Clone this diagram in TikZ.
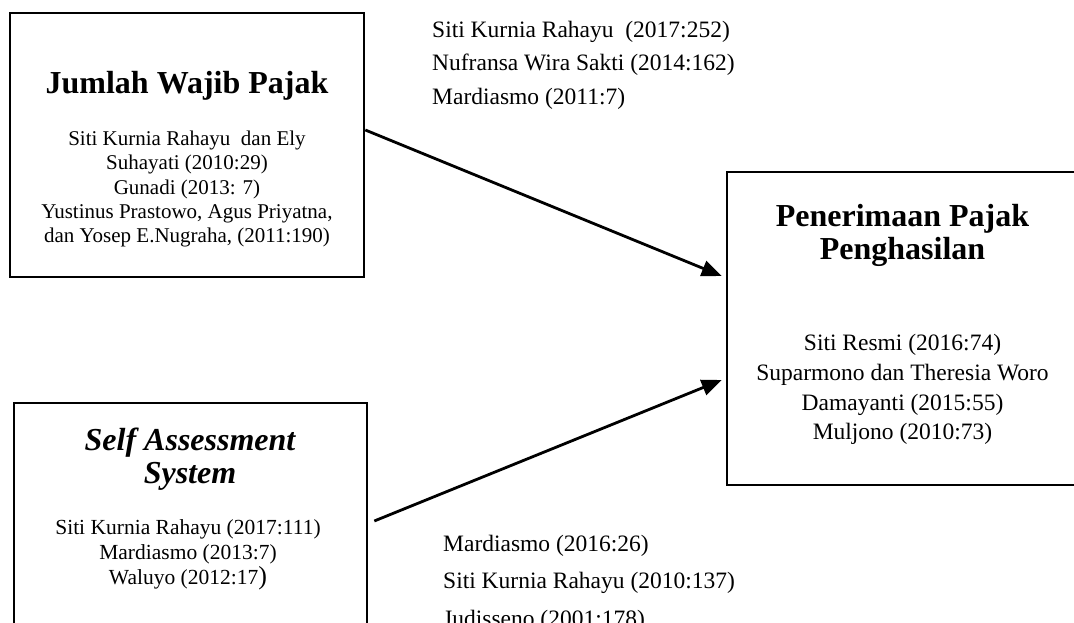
\documentclass[tikz,border=0pt]{standalone}
\usepackage{fontspec}
\setmainfont{Liberation Serif}
\usetikzlibrary{arrows.meta}
\begin{document}
\begin{tikzpicture}[x=1pt,y=-1pt,
  box/.style={draw,line width=2.6pt,inner sep=0pt,rectangle},
  ttl/.style={align=center,inner sep=0pt,font=\fontsize{32}{33}\selectfont\bfseries},
  lst/.style={align=center,inner sep=0pt},
  ref/.style={align=left,inner sep=0pt,anchor=west},
  arr/.style={line width=2.8pt,-{Triangle[length=20pt,width=16pt]}}]
\useasboundingbox (0,0) rectangle (1074,623);
% boxes
\node[box,minimum width=354pt,minimum height=264pt] (jwp) at (187,145) {};
\node[box,minimum width=353pt,minimum height=250pt] (sas) at (190.5,528) {};
\node[box,minimum width=351pt,minimum height=313pt] (ppp) at (902.5,328.5) {};
% box texts
\node[ttl] (jwpt) at (187,86) {Jumlah Wajib Pajak};
\node[lst,font=\fontsize{21}{24.3}\selectfont] (jwpl) at (187,189)
  {Siti Kurnia Rahayu\ \ dan Ely\\ Suhayati (2010:29)\\ Gunadi (2013: 7)\\
   Yustinus Prastowo, Agus Priyatna,\\ dan Yosep E.Nugraha, (2011:190)};
\node[ttl,font=\fontsize{32}{33}\selectfont\bfseries\itshape] (sast) at (190,459.5) {Self Assessment\\ System};
\node[lst,font=\fontsize{21.5}{25}\selectfont] (sasl) at (188,555)
  {Siti Kurnia Rahayu (2017:111)\\ Mardiasmo (2013:7)\\ Waluyo (2012:17{\fontsize{26}{26}\selectfont )}};
\node[ttl] (pppt) at (902.5,235) {Penerimaan Pajak\\ Penghasilan};
\node[lst,font=\fontsize{23.5}{29.7}\selectfont] (pppl) at (902.5,389.5)
  {Siti Resmi (2016:74)\\ Suparmono dan Theresia Woro\\ Damayanti (2015:55)\\ Muljono (2010:73)};
% reference texts
\node[ref,font=\fontsize{23.5}{33.5}\selectfont] (r1) at (432,65)
  {Siti Kurnia Rahayu\ \ (2017:252)\\ Nufransa Wira Sakti (2014:162)\\ Mardiasmo (2011:7)};
\node[ref,font=\fontsize{23.5}{37.5}\selectfont] (r2) at (443,583)
  {Mardiasmo (2016:26)\\ Siti Kurnia Rahayu (2010:137)\\ Judisseno (2001:178)};
% connectors
\draw[arr] ([yshift=15pt]jwp.east) -- ([xshift=-4pt,yshift=52.5pt]ppp.west);
\draw[arr] ([xshift=6pt,yshift=7pt]sas.east) -- ([xshift=-4pt,yshift=-51.5pt]ppp.west);
\end{tikzpicture}
\end{document}
